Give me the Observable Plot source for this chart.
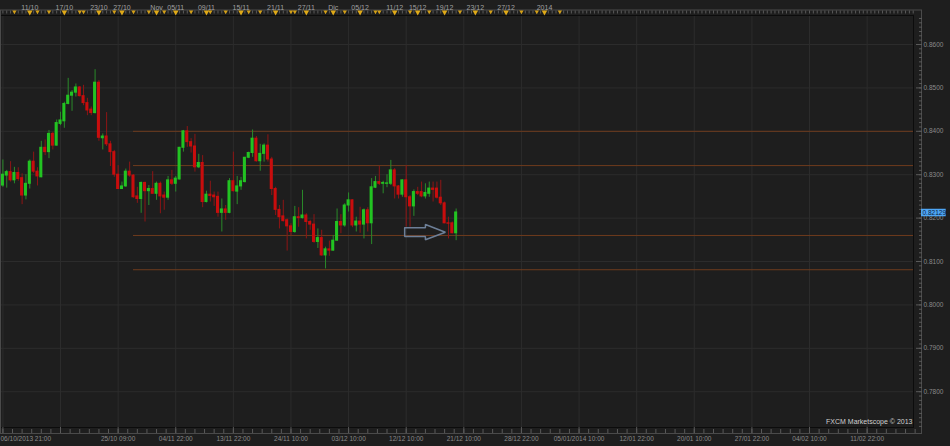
<!DOCTYPE html>
<html><head><meta charset="utf-8">
<script src="https://cdn.jsdelivr.net/npm/d3@7"></script>
<script src="https://cdn.jsdelivr.net/npm/@observablehq/plot@0.6"></script>
<style>
html,body{margin:0;padding:0;background:#1e1e1e;overflow:hidden}
#chart svg{display:block}
</style></head><body><div id="chart"></div>
<script>
// ---- data (EUR/GBP-style 12h candles, index = candle number) ----
const open  = [.8275,.8298,.8306,.8287,.8304,.8292,.8252,.8279,.8330,.8307,
               .8294,.8362,.8352,.8394,.8367,.8417,.8423,.8463,.8482,.8489,
               .8501,.8481,.8465,.8450,.8442,.8512,.8384,.8388,.8370,.8352,
               .8300,.8267,.8273,.8307,.8298,.8250,.8244,.8281,.8262,.8267,
               .8256,.8279,.8252,.8247,.8287,.8279,.8289,.8362,.8400,.8375,
               .8365,.8317,.8327,.8237,.8254,.8252,.8249,.8212,.8220,.8212,
               .8285,.8261,.8273,.8283,.8339,.8350,.8383,.8331,.8348,.8367,
               .8335,.8267,.8219,.8204,.8195,.8181,.8168,.8202,.8200,.8206,
               .8191,.8185,.8145,.8154,.8114,.8128,.8125,.8148,.8191,.8183,
               .8229,.8241,.8183,.8192,.8185,.8218,.8188,.8270,.8283,.8279,
               .8279,.8279,.8310,.8273,.8254,.8287,.8248,.8227,.8260,.8260,
               .8250,.8256,.8268,.8268,.8247,.8234,.8188,.8188,.8165];
const high  = [.8334,.8310,.8330,.8317,.8316,.8302,.8300,.8334,.8352,.8316,
               .8377,.8380,.8402,.8398,.8426,.8444,.8467,.8522,.8494,.8509,
               .8503,.8506,.8476,.8456,.8542,.8517,.8394,.8443,.8377,.8356,
               .8321,.8283,.8313,.8329,.8300,.8271,.8283,.8283,.8275,.8307,
               .8283,.8283,.8260,.8296,.8310,.8296,.8363,.8402,.8411,.8383,
               .8393,.8347,.8344,.8262,.8285,.8260,.8260,.8244,.8229,.8291,
               .8352,.8296,.8294,.8340,.8352,.8403,.8388,.8370,.8371,.8392,
               .8340,.8271,.8229,.8241,.8198,.8187,.8227,.8224,.8264,.8210,
               .8195,.8208,.8175,.8172,.8133,.8147,.8160,.8221,.8208,.8233,
               .8258,.8242,.8202,.8225,.8221,.8224,.8291,.8296,.8319,.8285,
               .8300,.8333,.8314,.8275,.8288,.8321,.8252,.8265,.8271,.8283,
               .8279,.8283,.8283,.8283,.8287,.8237,.8202,.8191,.8221];
const low   = [.8271,.8269,.8283,.8279,.8285,.8231,.8242,.8267,.8303,.8274,
               .8293,.8344,.8337,.8357,.8366,.8413,.8407,.8461,.8446,.8479,
               .8479,.8459,.8436,.8436,.8440,.8377,.8357,.8365,.8319,.8294,
               .8266,.8266,.8271,.8294,.8246,.8234,.8211,.8191,.8229,.8255,
               .8241,.8210,.8218,.8241,.8275,.8260,.8288,.8352,.8363,.8350,
               .8306,.8314,.8224,.8235,.8237,.8227,.8202,.8168,.8195,.8210,
               .8260,.8231,.8264,.8281,.8337,.8340,.8329,.8308,.8329,.8329,
               .8252,.8206,.8175,.8191,.8124,.8160,.8165,.8179,.8198,.8152,
               .8172,.8142,.8130,.8112,.8083,.8112,.8124,.8147,.8164,.8179,
               .8214,.8178,.8168,.8165,.8152,.8168,.8139,.8268,.8275,.8256,
               .8270,.8275,.8244,.8244,.8248,.8179,.8179,.8204,.8252,.8247,
               .8244,.8248,.8237,.8244,.8229,.8187,.8152,.8164,.8148];
const close = [.8300,.8306,.8287,.8304,.8290,.8252,.8279,.8330,.8307,.8296,
               .8362,.8352,.8394,.8367,.8419,.8425,.8463,.8482,.8489,.8501,
               .8481,.8465,.8448,.8442,.8512,.8385,.8388,.8370,.8352,.8300,
               .8267,.8273,.8307,.8298,.8248,.8244,.8281,.8262,.8267,.8256,
               .8279,.8250,.8247,.8287,.8279,.8291,.8362,.8400,.8375,.8365,
               .8317,.8327,.8237,.8254,.8251,.8248,.8212,.8220,.8212,.8285,
               .8262,.8273,.8285,.8339,.8350,.8383,.8331,.8348,.8367,.8335,
               .8267,.8219,.8202,.8193,.8181,.8168,.8202,.8200,.8206,.8191,
               .8185,.8145,.8154,.8114,.8128,.8125,.8148,.8191,.8183,.8229,
               .8241,.8183,.8192,.8185,.8218,.8188,.8271,.8283,.8279,.8281,
               .8280,.8310,.8273,.8254,.8287,.8248,.8227,.8260,.8256,.8250,
               .8258,.8268,.8265,.8247,.8234,.8188,.8187,.8165,.8213];

// bottom axis: a label every 15 candles
const bottomTickIdx = [0,15,30,45,60,75,90,105,120,135,150,165,180,195,210,225];
const bottomLabels  = ["06/10/2013 21:00","","25/10 09:00","04/11 22:00","13/11 22:00","24/11 10:00",
                       "03/12 10:00","12/12 10:00","21/12 10:00","28/12 22:00","05/01/2014 10:00",
                       "12/01 22:00","20/01 10:00","27/01 22:00","04/02 10:00","11/02 22:00"];
// top event strip
const topLabelIdx = [7,16,25,31,40,45,53,62,71,79,86,93,102,108,115,123,131,141];
const topLabels   = ["11/10","17/10","23/10","27/10","Nov","05/11","09/11","15/11","21/11",
                     "27/11","Dic","05/12","11/12","15/12","19/12","23/12","27/12","2014"];
const eventIdx = [3,9,12,20,21,29,34,38,42,49,54,58,64,67,75,76,84,89,97,98,106,111,119,127,135,139,145];
// price grid and tick values
const gridPrices = [0.78,0.79,0.80,0.81,0.82,0.83,0.84,0.85,0.86];
// horizontal support / resistance levels
const levels = [0.8400,0.8321,0.8160,0.8081];
const levelStartIdx = 34;
const lastPrice = 0.82129;
// block-arrow annotation vertices (candle index, price)
const arrowIdx   = [104.6,110.0,110.0,115.2,110.0,110.0,104.6,104.6];
const arrowPrice = [0.81776,0.81776,0.81853,0.81675,0.81500,0.81576,0.81576,0.81776];

// ---- build tables ----
const candles = open.map((o,i)=>({i, open:o, high:high[i], low:low[i], close:close[i], up: close[i]>=o}));
const arrow = arrowIdx.map((i,k)=>({i, p:arrowPrice[k]}));
const events = eventIdx.map(i=>({i}));
const tops = topLabelIdx.map((i,k)=>({i, t:topLabels[k]}));
const bottoms = bottomTickIdx.map((i,k)=>({i, t:bottomLabels[k]})).filter(d=>d.t && d.i>0);

// ---- layout ----
const W=950, H=446, mTop=15, mBottom=19, mLeft=0, mRight=37;
const pxPerCandle = 3.841, firstX = 2.4;
const plotW = W - mLeft - mRight;
const xDomain = [-firstX/pxPerCandle, (plotW-firstX)/pxPerCandle];
const pxPerUnit = 4340; // pixels per 1.0 price
const yTopPrice = 0.86 + (44-mTop)/pxPerUnit;
const yBotPrice = 0.86 - (H-mBottom-44)/pxPerUnit;
const xAt = px => xDomain[1] + px/pxPerCandle; // beyond right frame edge

const minorPrices = d3.range(772, 867).map(v=>v/1000);
const minorIdx = d3.range(0, 238, 2.5);
const everyIdx = d3.range(0, 238, 1);

const font = "Liberation Sans, Arial, sans-serif";
const green="#22c322", red="#c80d0d", gWick="#2a8a2a", rWick="#8e1515";

const chart = Plot.plot({
  width: W, height: H,
  marginTop: mTop, marginBottom: mBottom, marginLeft: mLeft, marginRight: mRight,
  x: {domain: xDomain, axis: null},
  y: {domain: [yBotPrice, yTopPrice], axis: null},
  style: {background: "#1e1e1e", fontFamily: font, color: "#8a8a8a"},
  marks: [
    // grid
    Plot.ruleY(gridPrices, {stroke: "#2c2c2c", strokeWidth: 1}),
    Plot.ruleX(bottomTickIdx, {stroke: "#2c2c2c", strokeWidth: 1}),
    // levels
    Plot.ruleY(levels, {x1: levelStartIdx, x2: xDomain[1], stroke: "#6e3b1d", strokeWidth: 1}),
    // candles
    Plot.ruleX(candles, {x: "i", y1: "low", y2: "high", stroke: d => d.up ? gWick : rWick, strokeWidth: 1}),
    Plot.rect(candles, {x1: d => d.i - 0.4, x2: d => d.i + 0.4, y1: "open", y2: "close",
      fill: d => d.up ? green : red, insetTop: -0.5, insetBottom: -0.5}),
    // arrow annotation
    Plot.line(arrow, {x: "i", y: "p", stroke: "#6d7f97", strokeWidth: 1.5, strokeLinejoin: "miter"}),
    // frames
    Plot.frame({stroke: "#0c0c0c"}),
    Plot.frame({stroke: "#4a4a4a", insetTop: -5.5, insetRight: -8, insetBottom: -6, insetLeft: 0}),
    // right axis
    Plot.axisY({anchor: "right", ticks: minorPrices, tickSize: 3, dx: 5, tickFormat: () => "", stroke: "#5a5a5a", label: null}),
    Plot.axisY({anchor: "right", ticks: gridPrices, tickSize: 6, dx: 2, tickPadding: 2,
      tickFormat: d3.format(".4f"), stroke: "#5a5a5a", fill: "#8a8a8a", fontSize: 6.5, label: null}),
    // bottom axis
    Plot.axisX({anchor: "bottom", ticks: minorIdx, tickSize: 4, dy: 2, tickFormat: () => "", stroke: "#5a5a5a", label: null}),
    Plot.axisX({anchor: "bottom", ticks: bottomTickIdx, tickSize: 6, tickFormat: () => "", stroke: "#5a5a5a", label: null}),
    Plot.text(bottoms, {x: "i", text: "t", frameAnchor: "bottom", dy: 13, fill: "#8a8a8a", fontSize: 6.5}),
    Plot.text([0], {x: d => d, text: () => bottomLabels[0], frameAnchor: "bottom", dy: 13, dx: -firstX,
      textAnchor: "start", fill: "#8a8a8a", fontSize: 6.5}),
    // top event strip
    Plot.axisX({anchor: "top", ticks: everyIdx, tickSize: 3, dy: -2.5, tickFormat: () => "", stroke: "#5a5a5a", label: null}),
    Plot.dot(events, {x: "i", frameAnchor: "top", dy: -3.8, symbol: "triangle", rotate: 180, r: 1.6, fill: "#d4a017", stroke: null}),
    Plot.dot(tops, {x: "i", frameAnchor: "top", dy: -3.3, symbol: "triangle", rotate: 180, r: 2.1, fill: "#e0aa18", stroke: null}),
    Plot.text(tops, {x: "i", text: "t", frameAnchor: "top", dy: -10.3, fill: "#a0a0a0", fontSize: 7}),
    // last price tag
    Plot.ruleY([lastPrice], {x1: xAt(8), x2: xAt(32.7), stroke: "#4ea6f5", strokeWidth: 7.5}),
    Plot.text([lastPrice], {y: d => d, text: d => d.toFixed(5), frameAnchor: "right", dx: 9, textAnchor: "start",
      fill: "#0b1c3c", fontSize: 6.5}),
    // watermark
    Plot.text(["FXCM Marketscope © 2013"], {text: d => d, frameAnchor: "bottom-right", textAnchor: "end",
      dx: -1, dy: -3.5, fill: "#d0d0d0", fontSize: 7})
  ]
});
document.getElementById("chart").appendChild(chart);
</script>
</body></html>
